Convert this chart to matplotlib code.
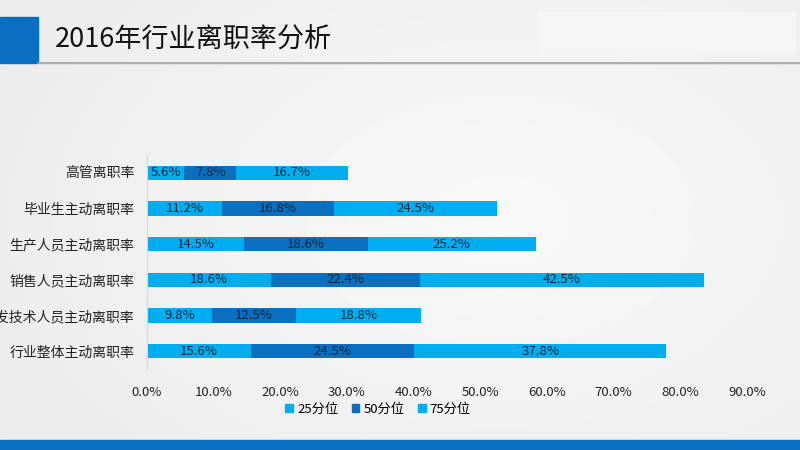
import numpy as np
import matplotlib
matplotlib.use('Agg')
import matplotlib.pyplot as plt
from matplotlib.patches import Rectangle
from matplotlib.ticker import FuncFormatter

plt.rcParams['font.family'] = ['Noto Sans CJK SC', 'DejaVu Sans']

# data
categories = ['高管离职率', '毕业生主动离职率', '生产人员主动离职率',
              '销售人员主动离职率', '研发技术人员主动离职率', '行业整体主动离职率']
p25 = [5.6, 11.2, 14.5, 18.6, 9.8, 15.6]
p50 = [7.8, 16.8, 18.6, 22.4, 12.5, 24.5]
p75 = [16.7, 24.5, 25.2, 42.5, 18.8, 37.8]
series_names = ['25分位', '50分位', '75分位']
xticks = [0, 10, 20, 30, 40, 50, 60, 70, 80, 90]

light = '#00AEEF'
dark = '#0A6FBF'
txt = '#14243A'

fig = plt.figure(figsize=(8, 4.5), dpi=100)

# background with a soft radial gradient
bg = fig.add_axes([0, 0, 1, 1], zorder=-10)
yy, xx = np.mgrid[0:450, 0:800]
r = np.sqrt(((xx - 500) / 650.0) ** 2 + ((yy - 220) / 420.0) ** 2)
shade = np.clip(0.975 - 0.06 * r, 0.90, 0.975)
bg.imshow(shade, cmap='gray', vmin=0, vmax=1, extent=[0, 800, 450, 0], aspect='auto')
bg.set_xlim(0, 800)
bg.set_ylim(450, 0)
bg.axis('off')

# header decorations
bg.add_patch(Rectangle((0, 17), 38, 46, color='#0A6FC2', zorder=2))
bg.add_patch(Rectangle((538, 12), 258, 43, facecolor='#F5F5F5', edgecolor='none', zorder=2))
bg.plot([38, 800], [62.5, 62.5], color='#A0A0A0', lw=1.2, zorder=3)
bg.plot([38, 800], [64, 64], color='#E0E0E0', lw=0.8, zorder=3)
bg.add_patch(Rectangle((0, 440), 800, 10, color='#0A6FC2', zorder=2))
bg.text(55, 40, '2016年行业离职率分析', fontsize=19.5, color='#111111',
        va='center', ha='left', zorder=4)

# main chart
ax = fig.add_axes([147 / 800, 1 - 369 / 450, 600 / 800, 214 / 450])
ax.patch.set_alpha(0)
y = np.arange(len(categories))
h = 0.4
left = np.zeros(len(categories))
for vals, col in zip([p25, p50, p75], [light, dark, light]):
    vals = np.array(vals)
    ax.barh(y, vals, left=left, height=h, color=col)
    for yi, l, v in zip(y, left, vals):
        ax.text(l + v / 2, yi, '%.1f%%' % v, ha='center', va='center',
                fontsize=9.5, color=txt)
    left = left + vals

ax.set_xlim(0, 90)
ax.set_ylim(len(categories) - 0.5, -0.5)
ax.set_yticks(y)
ax.set_yticklabels(categories, fontsize=10, color='#222222')
ax.set_xticks(xticks)
ax.xaxis.set_major_formatter(FuncFormatter(lambda v, p: '%.1f%%' % v))
ax.tick_params(axis='x', labelsize=9.5, colors='#222222', length=0, pad=12)
ax.tick_params(axis='y', length=0, pad=9)
for s in ['top', 'right', 'bottom']:
    ax.spines[s].set_visible(False)
ax.spines['left'].set_color('#D8D8D8')

handles = [Rectangle((0, 0), 1, 1, color=c) for c in [light, dark, light]]
fig.legend(handles, series_names, loc='center', bbox_to_anchor=(378 / 800, 1 - 409 / 450),
           ncol=3, frameon=False, fontsize=9.5, handlelength=0.6, handleheight=0.6,
           handletextpad=0.3, columnspacing=1.0)

fig.savefig('out.png', dpi=100)
